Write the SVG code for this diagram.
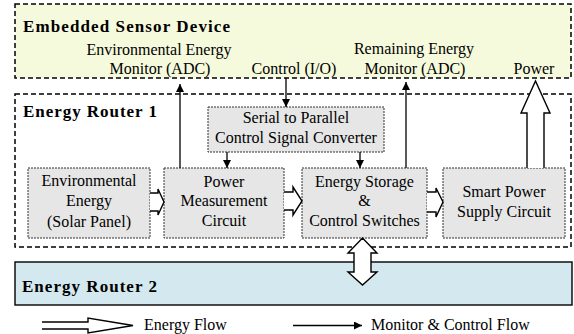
<svg xmlns="http://www.w3.org/2000/svg" width="574" height="334" viewBox="0 0 574 334">
<defs>
<style>
text{font-family:'Liberation Serif','Times New Roman','DejaVu Serif',serif;font-size:16px;fill:#000}
.h{font-weight:bold;font-size:17px}
.m{text-anchor:middle}
.outer{stroke:#000;stroke-width:1.5;stroke-dasharray:5,3}
.blk{fill:#e6e6e6;stroke:#333;stroke-width:1;stroke-dasharray:2,1}
.ln{stroke:#000;stroke-width:1.3;fill:none}
.hol{stroke:#000;stroke-width:1.4;fill:#fff;stroke-linejoin:miter}
</style>
<marker id="ah" viewBox="0 0 10 10" refX="10" refY="5" markerWidth="8" markerHeight="8" markerUnits="userSpaceOnUse" orient="auto">
<path d="M0,0 L10,5 L0,10 Z" fill="#000"/>
</marker>
</defs>
<rect width="574" height="334" fill="#fff"/>
<g font-family="Liberation Serif, serif">
<g id="sensor">
<rect class="outer" x="15" y="4" width="556" height="74" fill="#f6fadd"/>
<text class="h" x="23" y="32" textLength="207" lengthAdjust="spacing">Embedded Sensor Device</text>
<text class="m" x="159" y="55">Environmental Energy</text>
<text class="m" x="160" y="74">Monitor (ADC)</text>
<text class="m" x="294" y="74">Control (I/O)</text>
<text class="m" x="414" y="54">Remaining Energy</text>
<text class="m" x="415" y="74">Monitor (ADC)</text>
<text class="m" x="534" y="74">Power</text>
</g>

<g id="router1">
<rect class="outer" x="15" y="94" width="556" height="153" fill="#fff"/>
<text class="h" x="23" y="117" textLength="134" lengthAdjust="spacing">Energy Router 1</text>
</g>

<g id="router2">
<rect x="15" y="262" width="557" height="43" fill="#d3e9ef" stroke="#000" stroke-width="1.4"/>
<text class="h" x="22" y="292" textLength="135" lengthAdjust="spacing">Energy Router 2</text>
</g>

<g id="serial">
<rect class="blk" x="208" y="107" width="176" height="45"/>
<text class="m" x="296" y="123">Serial to Parallel</text>
<text class="m" x="296" y="143">Control Signal Converter</text>
</g>

<g id="env">
<rect class="blk" x="28" y="168" width="122" height="70"/>
<text class="m" x="89" y="186">Environmental</text>
<text class="m" x="89" y="206">Energy</text>
<text class="m" x="89" y="227">(Solar Panel)</text>
</g>

<g id="power">
<rect class="blk" x="164" y="168" width="120" height="70"/>
<text class="m" x="224" y="187">Power</text>
<text class="m" x="224" y="206">Measurement</text>
<text class="m" x="224" y="226">Circuit</text>
</g>

<g id="storage">
<rect class="blk" x="302" y="168" width="125" height="70"/>
<text class="m" x="364.5" y="187">Energy Storage</text>
<text class="m" x="364.5" y="206">&amp;</text>
<text class="m" x="364.5" y="226">Control Switches</text>
</g>

<g id="smart">
<rect class="blk" x="443" y="168" width="122" height="70"/>
<text class="m" x="504" y="197">Smart Power</text>
<text class="m" x="504" y="217">Supply Circuit</text>
</g>

<g id="connectors">
<line class="ln" x1="180" y1="168" x2="180" y2="84" marker-end="url(#ah)"/>
<line class="ln" x1="286" y1="78" x2="286" y2="107" marker-end="url(#ah)"/>
<line class="ln" x1="227" y1="152" x2="227" y2="168" marker-end="url(#ah)"/>
<line class="ln" x1="360" y1="152" x2="360" y2="168" marker-end="url(#ah)"/>
<line class="ln" x1="406" y1="168" x2="406" y2="82" marker-end="url(#ah)"/>
<path class="hol" d="M150,193 H158 V189 L164,202 L158,215 V211 H150"/>
<path class="hol" d="M284,192 H293 V187 L302,201 L293,215 V210 H284"/>
<path class="hol" d="M427,192 H436 V188 L443,202 L436,217 V212 H427"/>
<path class="hol" d="M527,168 V113 H521 L535.5,81 L550,113 H544 V168"/>
<path class="hol" d="M362.5,238 L377,253 H371 V272 H377 L362.5,285 L348,272 H354 V253 H348 Z"/>
</g>

<g id="legend">
<path class="hol" d="M42,322 H88 V318 L133,325.5 L88,333 V329 H42" fill="none"/>
<text x="144" y="330">Energy Flow</text>
<line class="ln" x1="293" y1="325.5" x2="362" y2="325.5" marker-end="url(#ah)"/>
<text x="371" y="330">Monitor &amp; Control Flow</text>
</g>
</g>
</svg>
